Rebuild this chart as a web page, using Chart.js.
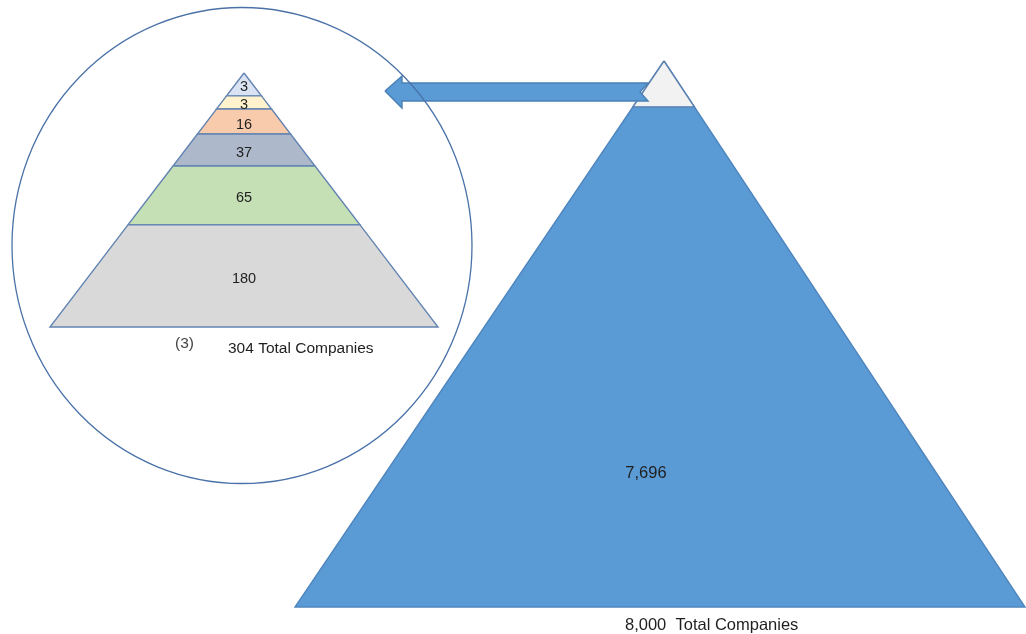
<!DOCTYPE html>
<html>
<head>
<meta charset="utf-8">
<script src="https://cdn.jsdelivr.net/npm/chart.js@4.4.1/dist/chart.umd.min.js"></script>
<style>
  html, body { margin: 0; padding: 0; background: #fff; }
  #wrap { position: relative; width: 1026px; height: 634px; }
</style>
</head>
<body>
<div id="wrap"><canvas id="chart"></canvas></div>
<script>
/* ---------- data ---------- */
// tiers of the zoomed pyramid, top to bottom
const tierValues = [3, 3, 16, 37, 65, 180];
const tierColors = ['#dae3f3', '#fff2cc', '#f8cbad', '#adb9ca', '#c5e0b4', '#d9d9d9'];
const smallTotal = 304;
const smallNote = '(3)';
// big pyramid: tip = the 304 above, body = the rest
const bigTotal = 8000;
const bigRest = 7696;
const totalSuffix = 'Total Companies';

/* ---------- layout (canvas units) ---------- */
const W = 1026, H = 634;
const small = { cx: 244, apexY: 73, baseY: 327, half: 194 };
// fraction of pyramid height at each tier boundary
const tierBreaks = [0, 0.09, 0.142, 0.24, 0.366, 0.598, 1];
const big = { apexX: 664, apexY: 61, baseY: 607, left: 295, right: 1025, tip: 0.084 };
const ring = { cx: 242, cy: 245.5, rx: 230, ry: 238 };
const arrow = [[385, 91], [402, 76], [402, 83], [648, 83], [640, 92], [648, 101], [402, 101], [402, 108]];

const fmt = v => v.toLocaleString('en-US');

function poly(pts, fill, stroke, order) {
  const data = pts.map(p => ({ x: p[0], y: p[1] }));
  data.push({ x: pts[0][0], y: pts[0][1] });
  return {
    type: 'line', data, showLine: true, fill: 'shape',
    backgroundColor: fill, borderColor: stroke, borderWidth: 1.4,
    pointRadius: 0, tension: 0, order
  };
}

const datasets = [];
let ord = 100;

// big pyramid body + light tip
const bL = big.left, bR = big.right;
datasets.push(poly([[big.apexX, big.apexY], [bR, big.baseY], [bL, big.baseY]], '#5b9bd5', '#4f86be', ord--));
const tipY = big.apexY + big.tip * (big.baseY - big.apexY);
datasets.push(poly([
  [big.apexX, big.apexY],
  [big.apexX + big.tip * (bR - big.apexX), tipY],
  [big.apexX + big.tip * (bL - big.apexX), tipY]
], '#f2f2f2', '#5b7fae', ord--));

// arrow
datasets.push(poly(arrow, '#5b9bd5', '#4a7fb5', ord--));

// small pyramid tiers
const sh = small.baseY - small.apexY;
const tierMids = [];
tierValues.forEach((v, i) => {
  const a = tierBreaks[i], b = tierBreaks[i + 1];
  const yA = small.apexY + a * sh, yB = small.apexY + b * sh;
  const wA = a * small.half, wB = b * small.half;
  const pts = a === 0
    ? [[small.cx, yA], [small.cx + wB, yB], [small.cx - wB, yB]]
    : [[small.cx - wA, yA], [small.cx + wA, yA], [small.cx + wB, yB], [small.cx - wB, yB]];
  datasets.push(poly(pts, tierColors[i], '#6384b2', ord--));
  tierMids.push({ y: (yA + yB) / 2 + 3, text: fmt(v) });
});

/* ---------- circle and texts drawn via plugin ---------- */
const overlay = {
  id: 'overlay',
  afterDatasetsDraw(chart) {
    const { ctx, scales: { x, y } } = chart;
    ctx.save();
    // magnifier ring
    ctx.beginPath();
    ctx.ellipse(x.getPixelForValue(ring.cx), y.getPixelForValue(ring.cy),
      Math.abs(x.getPixelForValue(ring.cx + ring.rx) - x.getPixelForValue(ring.cx)),
      Math.abs(y.getPixelForValue(ring.cy + ring.ry) - y.getPixelForValue(ring.cy)), 0, 0, Math.PI * 2);
    ctx.strokeStyle = '#4a72a8';
    ctx.lineWidth = 1.3;
    ctx.stroke();

    ctx.fillStyle = '#1f1f1f';
    ctx.textBaseline = 'middle';
    ctx.font = '14.5px "Liberation Sans", Arial, sans-serif';
    ctx.textAlign = 'center';
    tierMids.forEach(t => ctx.fillText(t.text, x.getPixelForValue(small.cx), y.getPixelForValue(t.y)));

    ctx.font = '15.5px "Liberation Sans", Arial, sans-serif';
    ctx.textAlign = 'left';
    ctx.fillText(fmt(smallTotal) + ' ' + totalSuffix, x.getPixelForValue(228), y.getPixelForValue(349));
    ctx.fillStyle = '#444';
    ctx.fillText(smallNote, x.getPixelForValue(175), y.getPixelForValue(344));

    ctx.fillStyle = '#1f1f1f';
    ctx.font = '16.5px "Liberation Sans", Arial, sans-serif';
    ctx.textAlign = 'center';
    ctx.fillText(fmt(bigRest), x.getPixelForValue(646), y.getPixelForValue(473));
    ctx.textAlign = 'left';
    ctx.fillText(fmt(bigTotal) + '  ' + totalSuffix, x.getPixelForValue(625), y.getPixelForValue(625));
    ctx.restore();
  }
};

new Chart(document.getElementById('chart'), {
  type: 'scatter',
  data: { datasets },
  options: {
    responsive: true,
    maintainAspectRatio: false,
    animation: false,
    layout: { padding: 0 },
    plugins: { legend: { display: false }, tooltip: { enabled: false } },
    scales: {
      x: { type: 'linear', min: 0, max: W, display: false },
      y: { type: 'linear', min: 0, max: H, reverse: true, display: false }
    }
  },
  plugins: [overlay]
});
</script>
</body>
</html>
